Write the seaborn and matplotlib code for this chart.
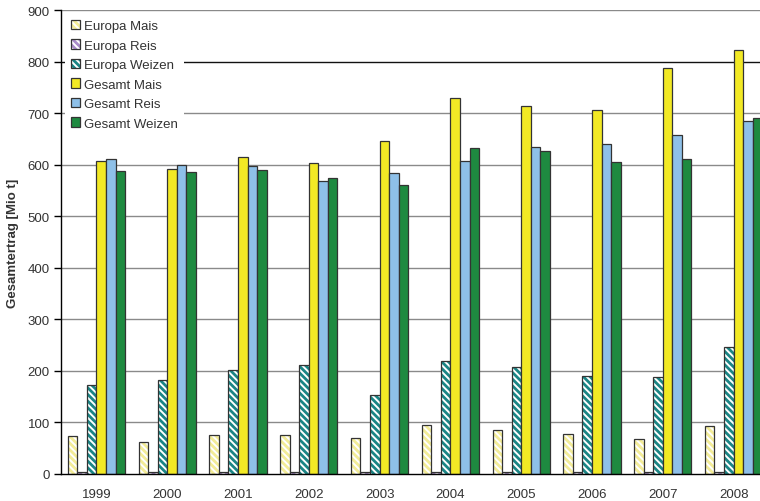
import matplotlib
matplotlib.use("Agg")
import matplotlib.pyplot as plt
from matplotlib.patches import Patch
import seaborn as sns
import pandas as pd

years = ["1999", "2000", "2001", "2002", "2003", "2004", "2005", "2006", "2007", "2008"]
series = ["Europa Mais", "Europa Reis", "Europa Weizen", "Gesamt Mais", "Gesamt Reis", "Gesamt Weizen"]
europa_mais = [73, 63, 76, 76, 69, 96, 86, 77, 67, 93]
europa_reis = [3, 3, 3, 3, 3, 3, 3, 3, 3, 3]
europa_weizen = [173, 183, 202, 211, 153, 220, 208, 191, 189, 247]
gesamt_mais = [607, 592, 615, 604, 645, 729, 713, 706, 788, 822]
gesamt_reis = [611, 599, 598, 569, 584, 607, 634, 641, 657, 685]
gesamt_weizen = [587, 586, 589, 574, 560, 632, 626, 605, 611, 690]

values = [europa_mais, europa_reis, europa_weizen, gesamt_mais, gesamt_reis, gesamt_weizen]
rows = []
for s, vals in zip(series, values):
    for y, v in zip(years, vals):
        rows.append({"Jahr": y, "Serie": s, "Wert": v})
df = pd.DataFrame(rows)

sns.set_style("white")
plt.rcParams["font.family"] = ["Liberation Sans", "DejaVu Sans"]
plt.rcParams["hatch.linewidth"] = 2.0

face = ["white", "white", "white", "#F2E925", "#8EC0E8", "#1E8A40"]
hatchcol = ["#F3EC98", "#A98BC8", "#1A8585", None, None, None]
HATCH = "\\" * 5
hatches = [HATCH, HATCH, HATCH, None, None, None]


def apply_hatch(p, si):
    if hatches[si]:
        p.set_hatch(hatches[si])
        if hasattr(p, "set_hatchcolor"):
            p.set_hatchcolor(hatchcol[si])
        else:
            p._hatch_color = matplotlib.colors.to_rgba(hatchcol[si])


fig = plt.figure(figsize=(7.6, 5.02), dpi=100)
ax = fig.add_axes([61 / 760, 27 / 502, 708 / 760, 464 / 502])

sns.barplot(data=df, x="Jahr", y="Wert", hue="Serie", order=years, hue_order=series,
            palette=face, width=0.81, gap=0, dodge=True, edgecolor="#333333",
            linewidth=0.9, legend=False, ax=ax, errorbar=None, saturation=1)

n = len(years)
for i, bar in enumerate(ax.patches[: n * len(series)]):
    si = i // n
    bar.set_facecolor(face[si])
    bar.set_edgecolor("#333333")
    apply_hatch(bar, si)

ax.set_xlim(-0.5, n - 0.5)
ax.set_ylim(0, 900)
ax.set_yticks(range(0, 901, 100))
for yv in range(100, 901, 100):
    ax.axhline(yv, color="#111111" if yv == 800 else "#8a8a8a", lw=1.0, zorder=0)

for sp in ["top", "right"]:
    ax.spines[sp].set_visible(False)
ax.spines["left"].set_color("black")
ax.spines["bottom"].set_color("black")
ax.spines["left"].set_linewidth(1.0)
ax.spines["bottom"].set_linewidth(1.0)

ax.set_xticks(range(n))
ax.set_xticklabels(years)
ax.set_xticks([i - 0.5 for i in range(n + 1)], minor=True)
ax.tick_params(axis="x", which="major", length=0, pad=10, labelsize=9.5, labelcolor="#333333")
ax.tick_params(axis="x", which="minor", length=4, width=1, color="black", direction="out")
ax.tick_params(axis="y", length=5, width=1, color="black", direction="out", labelsize=9.5,
               labelcolor="#333333", pad=3, left=True)
ax.set_xlabel("")
ax.set_ylabel("Gesamtertrag [Mio t]", fontsize=9.5, fontweight="bold", color="#333333", labelpad=6)

handles = []
for si, s in enumerate(series):
    p = Patch(facecolor=face[si], edgecolor="#333333", linewidth=0.9, label=s)
    apply_hatch(p, si)
    handles.append(p)
leg = ax.legend(handles=handles, loc="upper left", bbox_to_anchor=(0.0, 1.0), frameon=True,
                fancybox=False, facecolor="white", edgecolor="none", framealpha=1,
                fontsize=9.5, handlelength=0.7, handleheight=0.7, handletextpad=0.3,
                labelspacing=0.55, borderaxespad=0.3, borderpad=0.45, labelcolor="#333333")
leg.set_zorder(5)

fig.savefig("out.png", dpi=100)
